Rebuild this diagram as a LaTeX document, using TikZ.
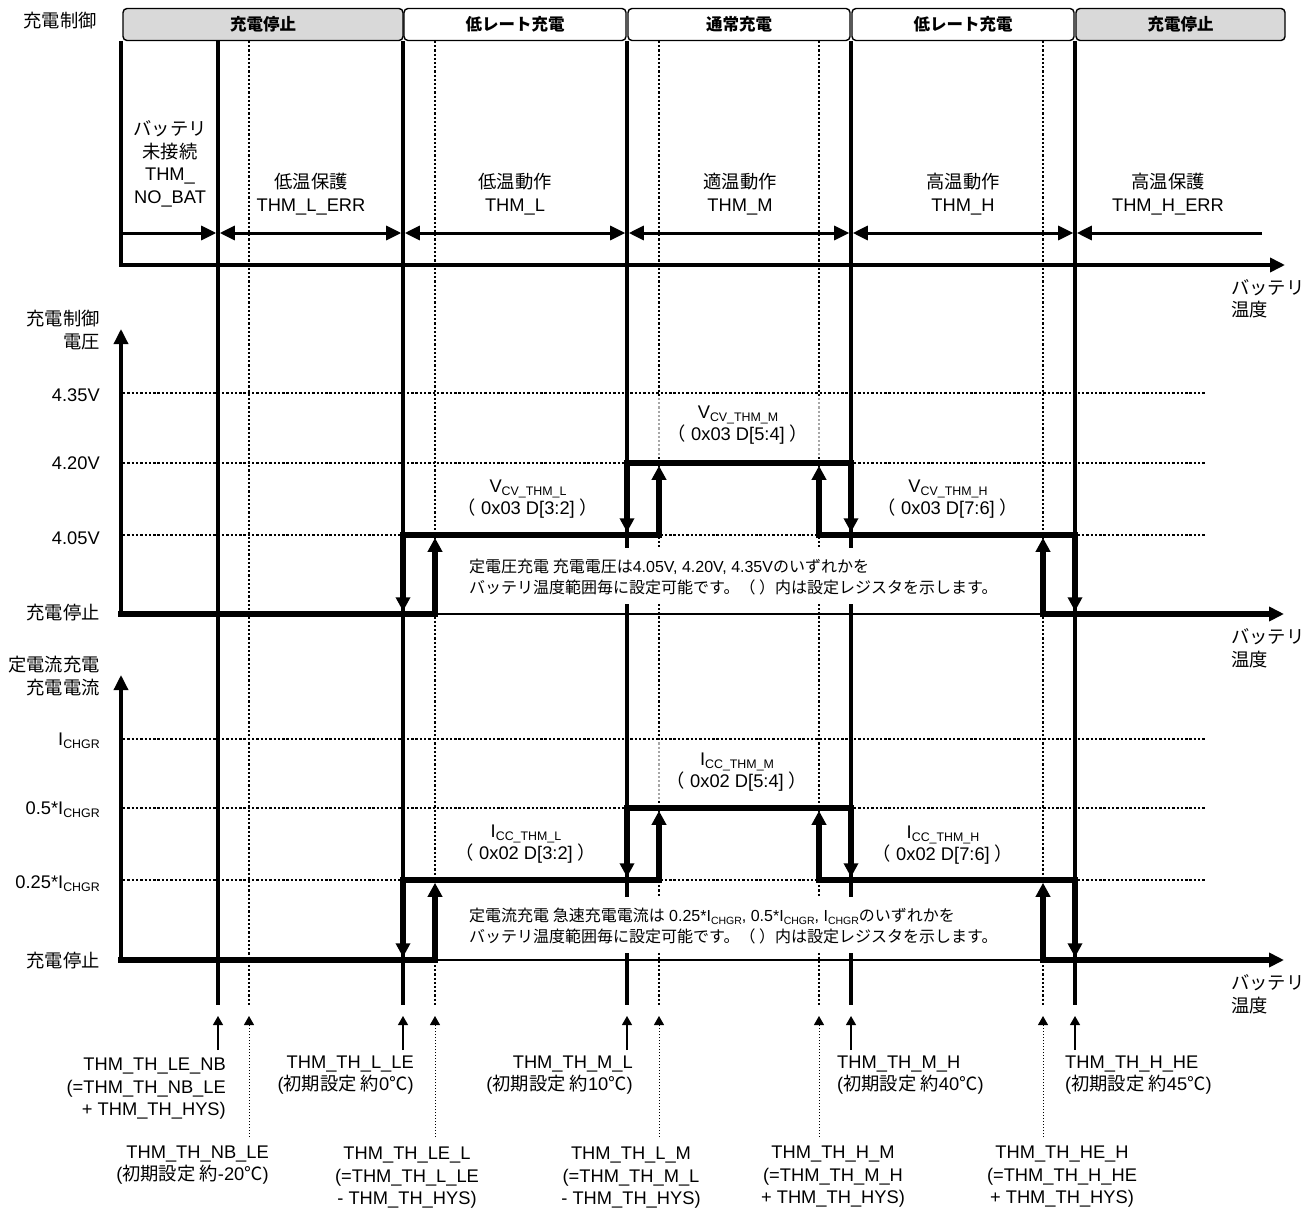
\documentclass[tikz,border=0pt]{standalone}
\usepackage{fontspec}
\setmainfont{Liberation Sans}
\newfontfamily\jp{Noto Sans CJK JP}
\usetikzlibrary{arrows.meta}
\definecolor{hdrgray}{RGB}{217,217,217}
\newcommand\mysub[2][12.4]{\raisebox{-3pt}{\fontsize{#1}{#1}\selectfont #2}}
\def\xO{121}\def\xA{218}\def\xB{249}\def\xC{403}\def\xD{435}\def\xE{627}
\def\xF{659}\def\xG{819}\def\xH{851}\def\xI{1043}\def\xJ{1075}
% #1 base level, #2 low level, #3 high level
\newcommand\drawsignal[3]{%
  \draw[sigh] (\xO,#1) -- (\xD,#1);
  \draw[line width=2pt] (\xD,#1) -- (\xI,#1);
  \draw[line width=5.5pt,-{Triangle[length=15pt,width=14pt]}] (\xI-2.75,#1) -- (1284,#1);
  \draw[sigh] (\xC,#2) -- (\xF,#2);
  \draw[sigh] (\xE,#3) -- (\xH,#3);
  \draw[sigh] (\xG,#2) -- (\xJ,#2);
  \draw[sigv] (\xC,#2-2.75) -- (\xC,#1-2.75);
  \draw[sigv] (\xD,#1+2.75) -- (\xD,#2+2.75);
  \draw[sigv] (\xE,#3-2.75) -- (\xE,#2-2.75);
  \draw[sigv] (\xF,#2+2.75) -- (\xF,#3+2.75);
  \draw[sigv] (\xG,#2+2.75) -- (\xG,#3+2.75);
  \draw[sigv] (\xH,#3-2.75) -- (\xH,#2-2.75);
  \draw[sigv] (\xI,#1+2.75) -- (\xI,#2+2.75);
  \draw[sigv] (\xJ,#2-2.75) -- (\xJ,#1-2.75);
}
\begin{document}
\begin{tikzpicture}[x=1pt,y=-1pt,
  lbl/.style={font=\fontsize{18.3}{22.5}\selectfont, inner sep=0pt},
  note/.style={font=\fontsize{16}{21.5}\selectfont, inner sep=0pt, anchor=west, align=left},
  hdr/.style={draw=black, line width=1.4pt, rounded corners=4pt, minimum height=32pt,
    inner sep=0pt, font=\fontsize{16.5}{18}\selectfont\jp\bfseries},
  thickv/.style={line width=3.5pt},
  dotv/.style={line width=2.3pt, dash pattern=on 2.2pt off 2pt},
  gridl/.style={line width=2.5pt, dash pattern=on 2.4pt off 1.9pt},
  sigh/.style={line width=5.5pt, line cap=rect},
  sigv/.style={line width=5.5pt, -{Triangle[length=14pt,width=14pt]}},
  spanarr/.style={line width=3pt, {Triangle[length=15pt,width=14pt]}-{Triangle[length=15pt,width=14pt]}},
  onearr/.style={line width=3pt, -{Triangle[length=15pt,width=14pt]}},
  axis/.style={line width=3.4pt, -{Triangle[length=15pt,width=14pt]}},
  ptr/.style={line width=1.2pt, -{Triangle[length=9pt,width=10pt]}},
  dptr/.style={line width=1pt, dash pattern=on 1.5pt off 1.5pt, -{Triangle[length=9pt,width=10pt]}}
]
\useasboundingbox (0,0) rectangle (1316,1209);

% ---------- vertical threshold lines ----------
\foreach \x in {\xA,\xC,\xE,\xH,\xJ} \draw[thickv] (\x,41) -- (\x,1005);
\foreach \x in {\xB,\xD,\xF,\xG,\xI} \draw[dotv] (\x,41) -- (\x,1005);

% ---------- header ----------
\node[lbl] (ctl) at (60,21) {\jp 充電制御};
\node[hdr, fill=hdrgray, minimum width=280pt] (h1) at (263,24.5) {充電停止};
\node[hdr, fill=white, minimum width=222pt] (h2) at (515,24.5) {低レート充電};
\node[hdr, fill=white, minimum width=222pt] (h3) at (739,24.5) {通常充電};
\node[hdr, fill=white, minimum width=222pt] (h4) at (963,24.5) {低レート充電};
\node[hdr, fill=hdrgray, minimum width=209pt] (h5) at (1180.5,24.5) {充電停止};

% ---------- top section ----------
\draw[line width=3.6pt] (\xO,41) -- (\xO,266.8);
\draw[line width=3.6pt,-{Triangle[length=15pt,width=14pt]}] (\xO,265) -- (1285,265);
\draw[onearr] (\xO,233) -- (\xA-1.8,233);
\draw[spanarr] (\xA+1.8,233) -- (\xC-1.8,233);
\draw[spanarr] (\xC+1.8,233) -- (\xE-1.8,233);
\draw[spanarr] (\xE+1.8,233) -- (\xH-1.8,233);
\draw[spanarr] (\xH+1.8,233) -- (\xJ-1.8,233);
\draw[onearr] (1262,233) -- (\xJ+1.8,233);

\node[lbl, align=center] (s0) at (170,164) {{\jp バッテリ}\\{\jp 未接続}\\THM\_\\NO\_BAT};
\node[lbl, align=center] (s1) at (311,194) {{\jp 低温保護}\\THM\_L\_ERR};
\node[lbl, align=center] (s2) at (515,194) {{\jp 低温動作}\\THM\_L};
\node[lbl, align=center] (s3) at (740,194) {{\jp 適温動作}\\THM\_M};
\node[lbl, align=center] (s4) at (963,194) {{\jp 高温動作}\\THM\_H};
\node[lbl, align=center] (s5) at (1168,194) {{\jp 高温保護}\\THM\_H\_ERR};
\node[lbl, align=left, anchor=west] (t1) at (1231,299) {{\jp バッテリ}\\{\jp 温度}};

% ---------- voltage section ----------
\foreach \y in {393,463,535} \draw[gridl] (123,\y) -- (1205,\y);
\fill[white, opacity=0.65] (655,397) rectangle (823,456);
\fill[white] (450,548) rectangle (1030,604);
\draw[axis] (\xO,616) -- (\xO,329);
\node[lbl, align=right, anchor=east] (vax) at (100,330) {{\jp 充電制御}\\{\jp 電圧}};
\node[lbl, anchor=east] (v3) at (100,395) {4.35V};
\node[lbl, anchor=east] (v2) at (100,463) {4.20V};
\node[lbl, anchor=east] (v1) at (100,538) {4.05V};
\node[lbl, anchor=east] (v0) at (100,613) {\jp 充電停止};
\drawsignal{614}{535}{463}
\node[lbl, align=center] (vl) at (528,499) {V\mysub{CV\_THM\_L}\\{\jp （} 0x03 D[3:2] {\jp ）}};
\node[lbl, align=center] (vm) at (738,425) {V\mysub{CV\_THM\_M}\\{\jp （} 0x03 D[5:4] {\jp ）}};
\node[lbl, align=center] (vh) at (948,499) {V\mysub{CV\_THM\_H}\\{\jp （} 0x03 D[7:6] {\jp ）}};
\node[note] (nv) at (469,577) {{\jp 定電圧充電 充電電圧は}4.05V, 4.20V, 4.35V{\jp のいずれかを}\\{\jp バッテリ温度範囲毎に設定可能です。（ ）内は設定レジスタを示します。}};
\node[lbl, align=left, anchor=west] (t2) at (1231,648) {{\jp バッテリ}\\{\jp 温度}};

% ---------- current section ----------
\foreach \y in {739,808,880} \draw[gridl] (123,\y) -- (1205,\y);
\fill[white, opacity=0.65] (655,742) rectangle (813,801);
\fill[white] (450,897) rectangle (1030,953);
\draw[axis] (\xO,962) -- (\xO,675);
\node[lbl, align=right, anchor=east] (iax) at (100,676) {{\jp 定電流充電}\\{\jp 充電電流}};
\node[lbl, anchor=east] (i3) at (100,741) {I\mysub{CHGR}};
\node[lbl, anchor=east] (i2) at (100,810) {0.5*I\mysub{CHGR}};
\node[lbl, anchor=east] (i1) at (100,884) {0.25*I\mysub{CHGR}};
\node[lbl, anchor=east] (i0) at (100,961) {\jp 充電停止};
\drawsignal{960}{880}{808}
\node[lbl, align=center] (il) at (526,844) {I\mysub{CC\_THM\_L}\\{\jp （} 0x02 D[3:2] {\jp ）}};
\node[lbl, align=center] (im) at (737,772) {I\mysub{CC\_THM\_M}\\{\jp （} 0x02 D[5:4] {\jp ）}};
\node[lbl, align=center] (ih) at (943,845) {I\mysub{CC\_THM\_H}\\{\jp （} 0x02 D[7:6] {\jp ）}};
\node[note] (ni) at (469,926) {{\jp 定電流充電 急速充電電流は} 0.25*I\mysub[10.5]{CHGR}, 0.5*I\mysub[10.5]{CHGR}, I\mysub[10.5]{CHGR}{\jp のいずれかを}\\{\jp バッテリ温度範囲毎に設定可能です。（ ）内は設定レジスタを示します。}};
\node[lbl, align=left, anchor=west] (t3) at (1231,994) {{\jp バッテリ}\\{\jp 温度}};

% ---------- threshold pointers ----------
\foreach \x/\n in {\xA/A,\xC/C,\xE/E,\xH/H,\xJ/J} {
  \coordinate (t\n) at (\x,1016); \coordinate (b\n) at (\x,1050);
  \draw[ptr] (b\n) -- (t\n);
}
\foreach \x/\n in {\xB/B,\xD/D,\xF/F,\xG/G,\xI/I} {
  \coordinate (t\n) at (\x,1016); \coordinate (b\n) at (\x,1137);
  \draw[dptr] (b\n) -- (t\n);
}
\node[lbl, align=right, anchor=east] (lA) at (226,1089) {THM\_TH\_LE\_NB\\(=THM\_TH\_NB\_LE\\+ THM\_TH\_HYS)};
\node[lbl, align=right, anchor=east] (lB) at (269,1165) {THM\_TH\_NB\_LE\\({\jp 初期設定 約}-20{\jp ℃})};
\node[lbl, align=right, anchor=east] (lC) at (414,1075) {THM\_TH\_L\_LE\\({\jp 初期設定 約}0{\jp ℃})};
\node[lbl, align=center] (lD) at (407,1178) {THM\_TH\_LE\_L\\(=THM\_TH\_L\_LE\\- THM\_TH\_HYS)};
\node[lbl, align=right, anchor=east] (lE) at (633,1075) {THM\_TH\_M\_L\\({\jp 初期設定 約}10{\jp ℃})};
\node[lbl, align=center] (lF) at (631,1178) {THM\_TH\_L\_M\\(=THM\_TH\_M\_L\\- THM\_TH\_HYS)};
\node[lbl, align=center] (lG) at (833,1177) {THM\_TH\_H\_M\\(=THM\_TH\_M\_H\\+ THM\_TH\_HYS)};
\node[lbl, align=left, anchor=west] (lH) at (837,1075) {THM\_TH\_M\_H\\({\jp 初期設定 約}40{\jp ℃})};
\node[lbl, align=center] (lI) at (1062,1177) {THM\_TH\_HE\_H\\(=THM\_TH\_H\_HE\\+ THM\_TH\_HYS)};
\node[lbl, align=left, anchor=west] (lJ) at (1065,1075) {THM\_TH\_H\_HE\\({\jp 初期設定 約}45{\jp ℃})};
\end{tikzpicture}
\end{document}
